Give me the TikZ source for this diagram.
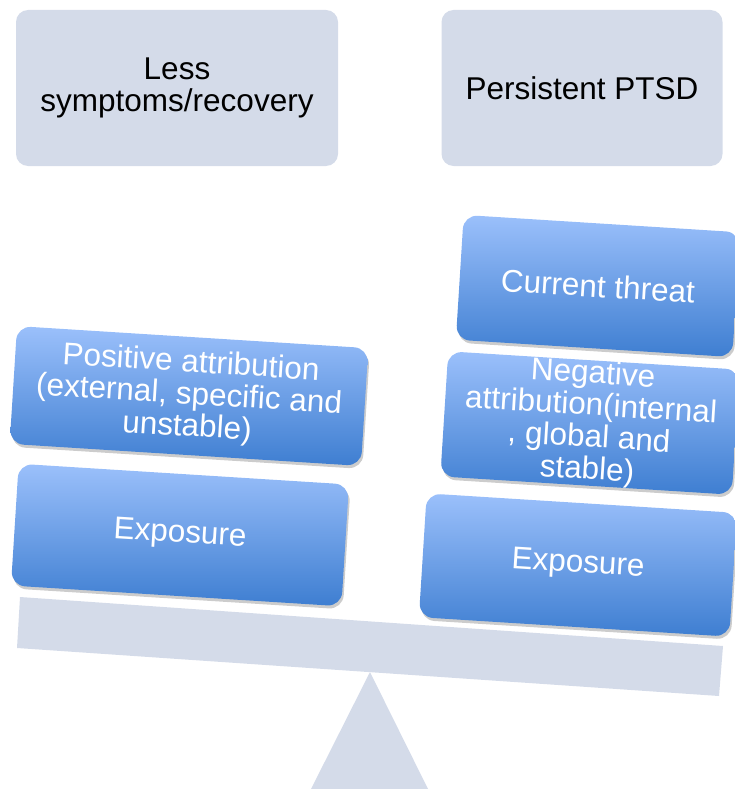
\documentclass[tikz,border=0pt]{standalone}
\usepackage{fontspec}
\setmainfont{Liberation Sans}
\usepackage{tikz}
\usetikzlibrary{shapes,shadows}
\definecolor{panel}{HTML}{D4DBE9}
\definecolor{bluetop}{HTML}{9BC0FB}
\definecolor{bluebot}{HTML}{3E7ED1}

\begin{document}
\begin{tikzpicture}[x=1pt,y=-1pt,
  outbox/.style={rectangle,rounded corners=12pt,fill=panel,inner sep=0pt,
    align=center,font=\fontsize{31.5}{32}\selectfont},
  factor/.style={rectangle,rounded corners=14pt,inner sep=0pt,align=center,
    top color=bluetop,bottom color=bluebot,text=white,rotate=-3.6,
    font=\fontsize{31.5}{32}\selectfont,
    drop shadow={shadow xshift=1.5pt,shadow yshift=-3pt,opacity=.4}}]

\useasboundingbox (0,0) rectangle (734,789);

% balance
\fill[panel] (20,597) -- (723,646) -- (719,696) -- (17,648) -- cycle;
\fill[panel] (370,672) -- (428,789) -- (311,789) -- cycle;

\node [outbox,minimum width=322pt,minimum height=156pt] (v1) at (177,88) {Less\\symptoms/recovery};
\node [outbox,minimum width=281pt,minimum height=156pt] (v2) at (582,88) {Persistent PTSD};

\node [factor,minimum width=352pt,minimum height=118pt] (v3) at (189,396) {Positive attribution\\(external, specific and\\unstable)};
\node [factor,minimum width=331pt,minimum height=122pt] (v4) at (180,535) {Exposure};

\node [factor,minimum width=277pt,minimum height=125pt] (v5) at (598,286) {Current threat};
\node [factor,minimum width=292pt,minimum height=125pt] (v6) at (590,423) {Negative\\attribution(internal\\, global and\\stable)};
\node [factor,minimum width=311pt,minimum height=124pt] (v7) at (578,565) {Exposure};

\end{tikzpicture}
\end{document}
